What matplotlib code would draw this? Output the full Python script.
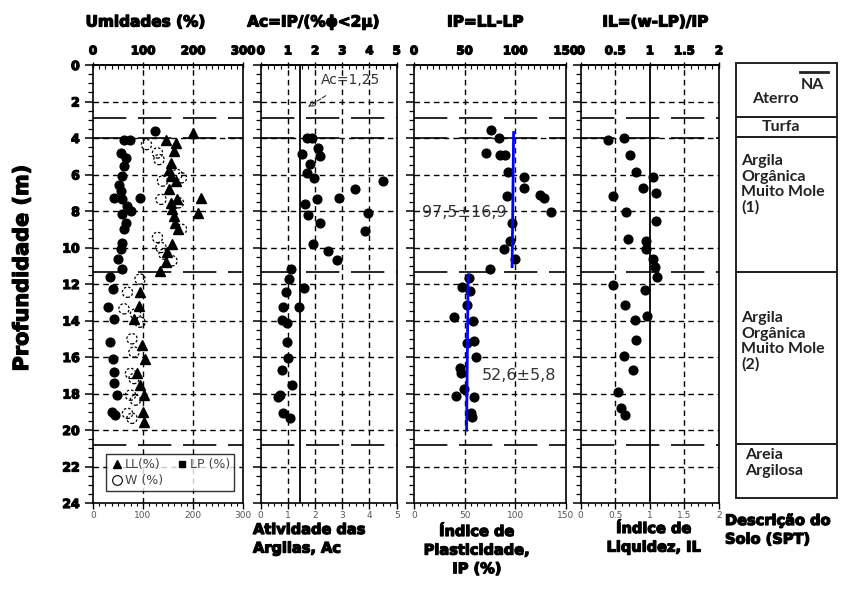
import matplotlib
matplotlib.use("Agg")
import matplotlib.pyplot as plt
import matplotlib.patheffects as pe
from matplotlib.ticker import AutoMinorLocator, MultipleLocator
from matplotlib.lines import Line2D

# ---------------- data ----------------
ll_depth = [3.73, 4.09, 4.27, 4.73, 5.36, 5.73, 6.09, 6.36, 6.82, 7.36, 7.55, 7.91, 8.27, 8.64, 9.0,
            9.82, 10.27, 10.82, 11.27, 7.27, 8.09,
            12.45, 13.18, 13.9, 15.36, 16.09, 16.9, 17.55, 18.09, 19.0, 19.55]
ll_val = [199, 145, 166, 161, 155, 152, 155, 166, 152, 168, 155, 158, 161, 163, 169,
          158, 148, 145, 134, 215, 209,
          94, 91, 82, 98, 104, 88, 94, 101, 99, 102]

lp_depth = [3.64, 4.09, 4.09, 4.82, 5.09, 5.55, 6.09, 6.55, 6.91, 7.27, 7.27, 7.36, 7.73, 8.0, 8.18,
            8.64, 9.0, 9.73, 10.09, 10.64, 11.18,
            11.64, 12.27, 13.27, 13.9, 15.18, 16.09, 16.82, 17.45, 18.09, 19.0, 19.18]
lp_val = [123, 62, 74, 56, 66, 62, 59, 53, 56, 43, 94, 59, 69, 75, 59,
          66, 62, 59, 56, 50, 59,
          34, 40, 31, 42, 34, 40, 42, 43, 48, 38, 45]

w_depth = [4.36, 4.82, 5.18, 6.0, 6.18, 6.36, 7.36, 7.55, 9.0, 9.45, 10.0, 10.36, 10.73,
           11.73, 12.45, 13.36, 13.64, 14.09, 15.0, 15.73, 16.9, 17.18, 18.09, 18.36, 19.09, 19.36]
w_val = [107, 129, 132, 168, 177, 139, 136, 171, 177, 129, 136, 142, 158,
         94, 69, 62, 85, 94, 78, 82, 75, 82, 75, 85, 69, 78]

ac_depth = [4.0, 4.0, 4.55, 5.0, 4.9, 5.45, 5.9, 6.2, 6.36, 6.8, 7.27, 7.36, 7.64, 8.2, 8.1, 8.64,
            9.1, 9.8, 10.2, 10.7, 11.2, 11.7, 12.2, 12.45,
            13.24, 13.28, 13.97, 14.15, 15.16, 16.07, 16.71, 17.53, 18.08, 18.17, 19.08, 19.36]
ac_val = [1.7, 1.87, 2.12, 2.18, 1.5, 1.81, 1.69, 1.96, 4.49, 3.47, 2.89, 2.08, 1.63, 1.75, 3.96, 2.18,
          3.83, 1.94, 2.49, 2.82, 1.10, 1.05, 1.59, 0.92,
          0.81, 1.42, 0.77, 0.96, 0.96, 1.02, 0.77, 1.14, 0.71, 0.65, 0.83, 1.08]
ac_ref = 1.45

ip_depth = [3.55, 4.0, 4.82, 4.91, 4.95, 5.85, 6.15, 6.73, 7.18, 7.15, 7.31, 8.04, 8.64, 9.64, 10.09,
            10.64, 11.18, 11.67, 12.15, 12.4,
            13.15, 13.83, 14.0, 15.1, 15.25, 16.0, 16.62, 16.86, 17.77, 18.14, 18.17, 19.08, 19.3]
ip_val = [76, 84, 71, 85, 90, 93, 109, 109, 92, 125, 129, 135, 97, 95, 89,
          100, 75, 54, 47, 55,
          52, 40, 58, 59, 52, 61, 45, 46, 49, 42, 59, 56, 57]
ip_mean1_x = [98.5, 97.0]
ip_mean1_d = [3.7, 11.05]
ip_mean2_x = [53.5, 52.0]
ip_mean2_d = [11.5, 20.0]

il_depth = [4.09, 4.0, 4.91, 5.85, 6.13, 6.73, 7.0, 7.18, 8.04, 8.55, 9.55, 9.67, 10.09, 10.64,
            11.09, 11.64, 12.04, 12.33,
            13.15, 13.75, 13.97, 15.07, 15.94, 16.71, 17.9, 18.81, 19.18]
il_val = [0.40, 0.62, 0.72, 0.80, 1.05, 0.90, 1.09, 0.46, 0.66, 1.09, 0.69, 0.94, 0.95, 1.05,
          1.07, 1.11, 0.47, 0.93,
          0.64, 0.96, 0.78, 0.80, 0.62, 0.76, 0.54, 0.59, 0.64]

layer_lines = [2.9, 4.0, 11.35, 20.8]
layer_bounds = [-0.1, 2.85, 3.95, 11.34, 20.77, 23.7]

# ---------------- figure ----------------
W, H = 862, 591
fig = plt.figure(figsize=(W / 100, H / 100), dpi=100)
heavy = [pe.withStroke(linewidth=0.9, foreground='black')]


def rect(x0, x1, y0=65, y1=503):
    return [x0 / W, 1 - y1 / H, (x1 - x0) / W, (y1 - y0) / H]


def setup(ax, xlim, major, labels, top_labels, nminor, vgrid, ylabels=False):
    ax.set_xlim(*xlim)
    ax.set_ylim(24, 0)
    for s in ax.spines.values():
        s.set_linewidth(1.2)
    ax.set_yticks(range(0, 25, 2))
    ax.yaxis.set_minor_locator(MultipleLocator(0.5))
    ax.tick_params(axis='y', which='major', direction='out', length=6, width=1.1, left=True, right=False)
    ax.tick_params(axis='y', which='minor', direction='out', length=3.5, width=0.9)
    if ylabels:
        ax.set_yticklabels([str(v) for v in range(0, 25, 2)], fontsize=9, fontweight='bold')
        for t in ax.get_yticklabels():
            t.set_path_effects(heavy)
    else:
        ax.set_yticklabels([])
    ax.set_xticks(major)
    ax.set_xticklabels(labels, fontsize=6.5, color='#555555')
    ax.xaxis.set_minor_locator(AutoMinorLocator(nminor))
    ax.tick_params(axis='x', which='major', direction='out', length=4, width=1.0, pad=1.5)
    ax.tick_params(axis='x', which='minor', direction='out', length=2.5, width=0.8)
    sec = ax.secondary_xaxis('top')
    sec.set_xticks(major)
    sec.set_xticklabels(top_labels, fontsize=8.5, fontweight='bold')
    for t in sec.get_xticklabels():
        t.set_path_effects(heavy)
    sec.xaxis.set_minor_locator(AutoMinorLocator(nminor))
    sec.tick_params(axis='x', which='major', direction='inout', length=5, width=1.0, pad=3)
    sec.tick_params(axis='x', which='minor', direction='in', length=3, width=0.8)
    sec.spines['top'].set_linewidth(1.2)
    # grid
    for d in range(2, 24, 2):
        ax.axhline(d, color='black', lw=1.0, dashes=(4, 3), zorder=1)
    for v in vgrid:
        ax.axvline(v, color='black', lw=1.0, dashes=(4, 3), zorder=1)
    for d in layer_lines:
        ax.axhline(d, color='black', lw=1.2, dashes=(20, 7), zorder=1.5)


ax1 = fig.add_axes(rect(93, 243))
ax2 = fig.add_axes(rect(260.7, 396.7))
ax3 = fig.add_axes(rect(414, 565.7))
ax4 = fig.add_axes(rect(580.7, 719))

setup(ax1, (0, 300), [0, 100, 200, 300], ['0', '100', '200', '300'], ['0', '100', '200', '300'], 8,
      [100, 200], ylabels=True)
setup(ax2, (0, 5), [0, 1, 2, 3, 4, 5], ['0', '1', '2', '3', '4', '5'], ['0', '1', '2', '3', '4', '5'], 4,
      [1, 2, 3, 4])
setup(ax3, (0, 150), [0, 50, 100, 150], ['0', '50', '100', '150'], ['0', '50', '100', '150'], 8,
      [50, 100])
setup(ax4, (0, 2), [0, 0.5, 1, 1.5, 2], ['0', '0.5', '1', '1.5', '2'], ['0', '0.5', '1', '1.5', '2'], 5,
      [0.5, 1.5])

MS = 6.3
# panel 1
ax1.scatter(w_val, w_depth, s=55, facecolors='none', edgecolors='black', linewidths=0.9,
            linestyles=(0, (2, 1.5)), zorder=3)
ax1.plot(ll_val, ll_depth, linestyle='none', marker='^', ms=6.5, color='black', zorder=4)
ax1.plot(lp_val, lp_depth, linestyle='none', marker='o', ms=MS, color='black', zorder=4)
h_ll = Line2D([], [], linestyle='none', marker='^', ms=6, color='black')
h_lp = Line2D([], [], linestyle='none', marker='s', ms=5, color='black')
h_w = Line2D([], [], linestyle='none', marker='o', ms=7, markerfacecolor='none',
             markeredgecolor='black', markeredgewidth=0.8, linewidth=0)
leg = ax1.legend([h_ll, h_w, h_lp], ['LL(%)', 'W (%)', 'LP (%)'], ncol=2, loc='lower left',
                 bbox_to_anchor=(0.045, 0.012), fontsize=9, frameon=True, fancybox=False,
                 edgecolor='black', borderpad=0.35, handletextpad=0.15, columnspacing=1.0,
                 handlelength=1.0, labelspacing=0.25)
leg.get_frame().set_linewidth(1.0)
for t in leg.get_texts():
    t.set_color('#444444')

# panel 2
ax2.axvline(ac_ref, color='black', lw=1.3, zorder=2)
ax2.plot(ac_val, ac_depth, linestyle='none', marker='o', ms=MS, color='black', zorder=4)
ax2.annotate('Ac=1,25', xy=(1.74, 2.3), xytext=(3.3, 0.82), ha='center', va='center',
             fontsize=10, color='#333333',
             arrowprops=dict(arrowstyle='->', color='#333333', lw=0.8, linestyle='--',
                             shrinkA=8, shrinkB=0))

# panel 3
ax3.plot(ip_val, ip_depth, linestyle='none', marker='o', ms=MS, color='black', zorder=4)
ax3.plot(ip_mean1_x, ip_mean1_d, color='#0000ff', lw=2, zorder=5)
ax3.plot(ip_mean2_x, ip_mean2_d, color='#0000ff', lw=2, zorder=5)
ax3.text(49.4, 8.1, '97,5±16,9', ha='center', va='center', fontsize=11.5, color='#333333', zorder=6)
ax3.text(104.3, 17.0, '52,6±5,8', ha='center', va='center', fontsize=11.5, color='#333333', zorder=6)

# panel 4
ax4.axvline(1.0, color='black', lw=1.3, zorder=2)
ax4.plot(il_val, il_depth, linestyle='none', marker='o', ms=MS, color='black', zorder=4)

# description column
ax5 = fig.add_axes(rect(736, 837))
ax5.set_xlim(0, 1)
ax5.set_ylim(24, 0)
ax5.axis('off')
for y0, y1 in zip(layer_bounds[:-1], layer_bounds[1:]):
    ax5.add_patch(plt.Rectangle((0, y0), 1, y1 - y0, fill=False, edgecolor='#222222', lw=1.4,
                                clip_on=False))
bf = dict(family='Lato', fontweight='bold', fontsize=11.5, color='#222222')
ax5.text(0.39, 1.85, 'Aterro', ha='center', va='center', **bf)
ax5.text(0.76, 1.1, 'NA', ha='center', va='center', **bf)
ax5.plot([0.63, 0.91], [0.38, 0.38], color='#222222', lw=2)
ax5.text(0.45, 3.4, 'Turfa', ha='center', va='center', **bf)
ax5.text(0.05, 4.9, 'Argila\nOrgânica\nMuito Mole\n(1)', ha='left', va='top', linespacing=1.12, **bf)
ax5.text(0.05, 13.5, 'Argila\nOrgânica\nMuito Mole\n(2)', ha='left', va='top', linespacing=1.12, **bf)
ax5.text(0.09, 21.0, 'Areia\nArgilosa', ha='left', va='top', linespacing=1.12, **bf)

# titles
tk = dict(fontsize=11, fontweight='bold', ha='center', va='center', path_effects=heavy)
fig.text(145 / W, 1 - 22 / H, 'Umidades (%)', **tk)
fig.text(313 / W, 1 - 22 / H, 'Ac=IP/(%ϕ<2μ)', **tk)
fig.text(485 / W, 1 - 22 / H, 'IP=LL-LP', **tk)
fig.text(655 / W, 1 - 22 / H, 'IL=(w-LP)/IP', **tk)

fig.text(22 / W, 1 - 268 / H, 'Profundidade (m)', rotation=90, ha='center', va='center',
         fontsize=15, fontweight='bold', path_effects=heavy)

bl = dict(fontsize=10.5, fontweight='bold', va='top', linespacing=1.3, path_effects=heavy)
fig.text(253 / W, 1 - 522 / H, 'Atividade das\nArgilas, Ac', ha='left', **bl)
fig.text(477 / W, 1 - 524 / H, 'Índice de\nPlasticidade,\nIP (%)', ha='center', multialignment='center', **bl)
fig.text(654 / W, 1 - 521 / H, 'Índice de\nLiquidez, IL', ha='center', multialignment='center', **bl)
fig.text(725 / W, 1 - 513 / H, 'Descrição do\nSolo (SPT)', ha='left', **bl)

fig.savefig('out.png', dpi=100)
